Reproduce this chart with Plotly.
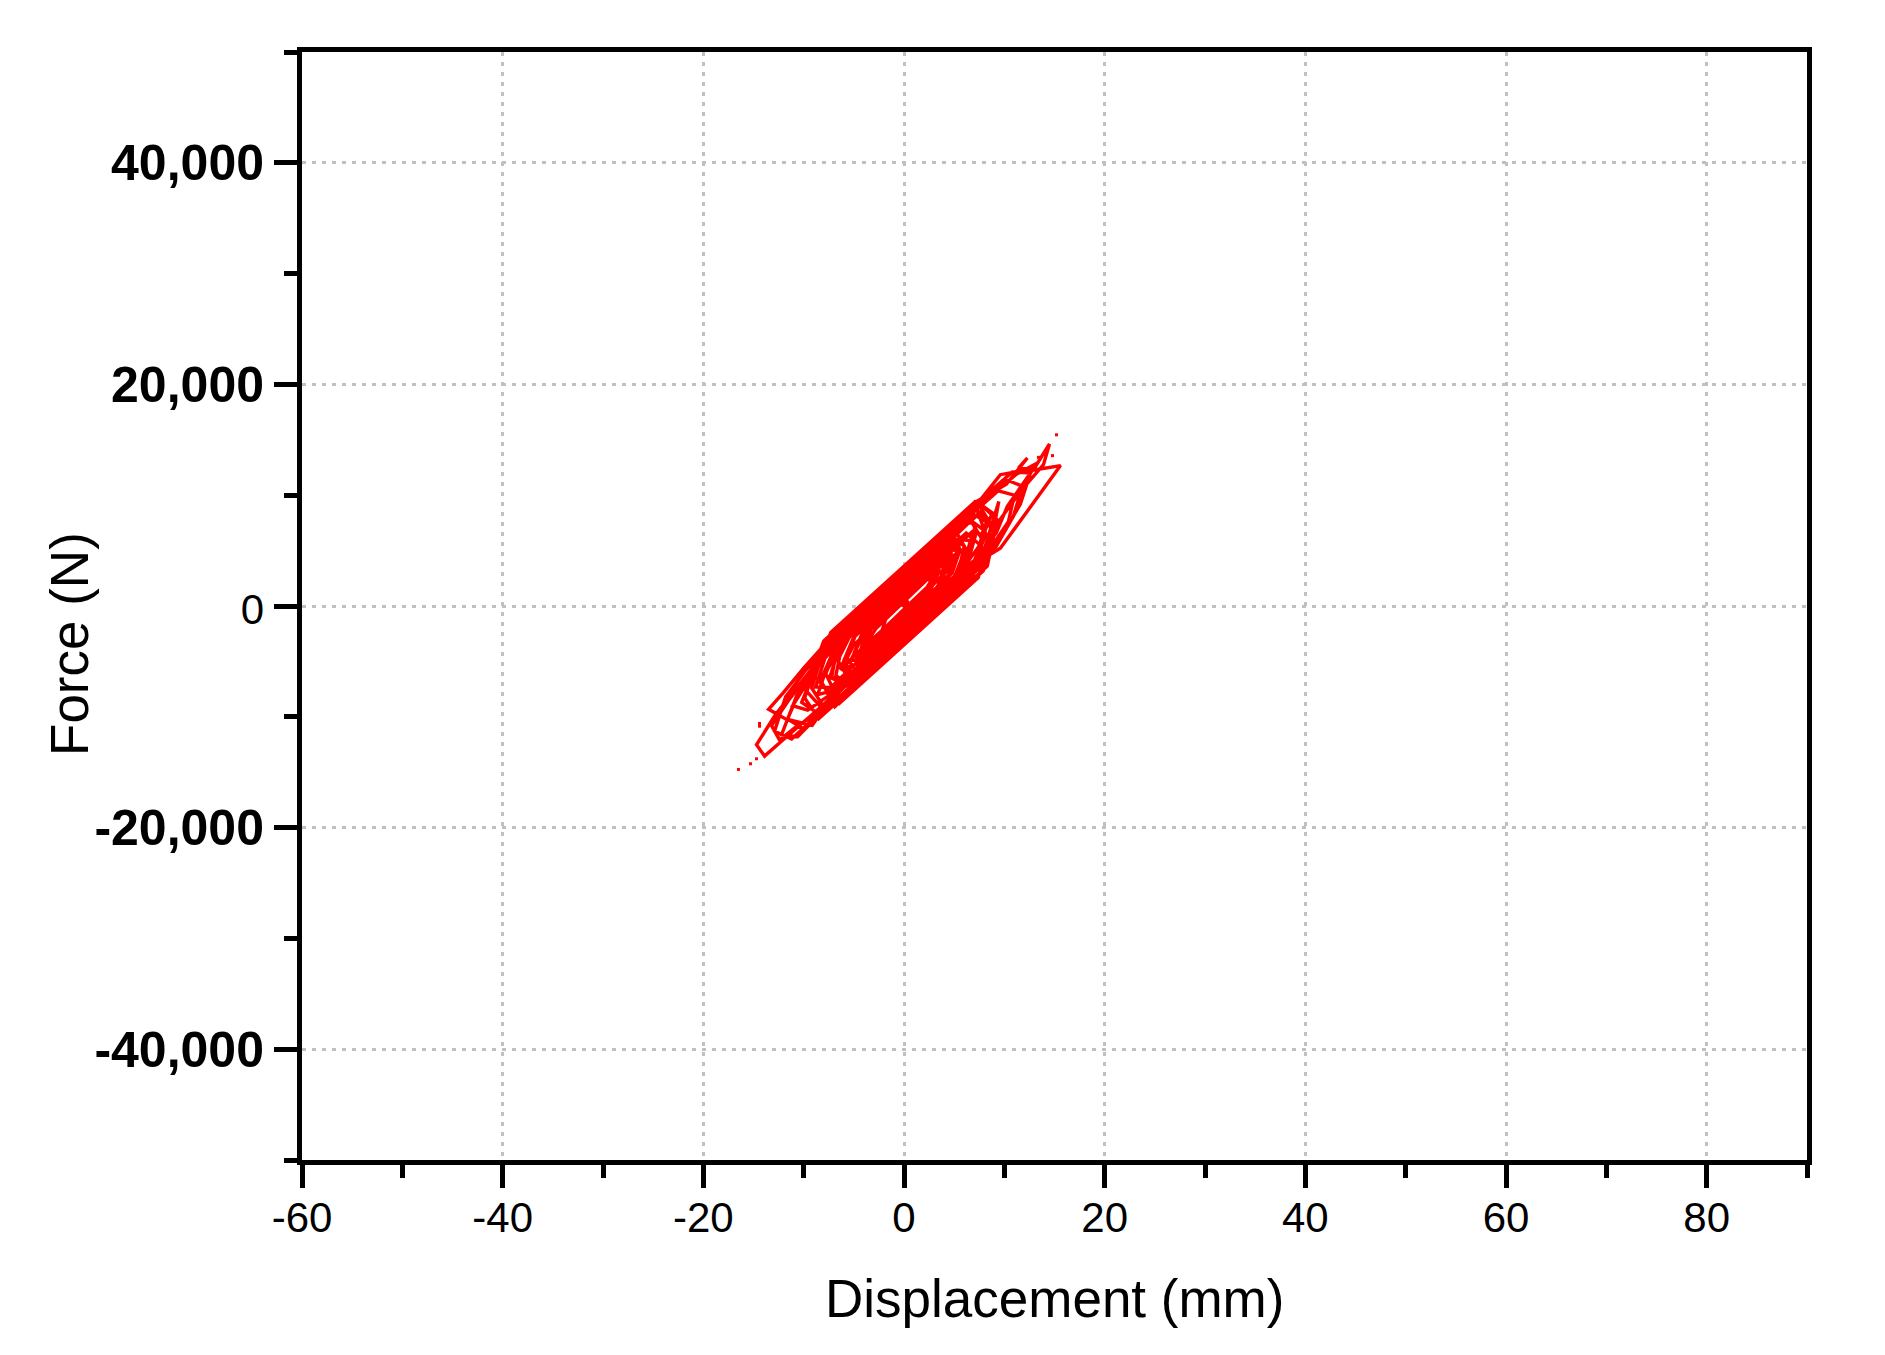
import plotly.graph_objects as go

# Hysteresis path (displacement mm, force N)
disp = [
    0.0, 1.2, 2.9, 4.1, 3.0, 1.1, -1.2, -3.0, -4.2, -3.1, -1.0, 1.3, 3.4, 5.2, 6.0, 4.7, 2.4, 0.3,
    -2.1, -4.4, -6.1, -6.8, -5.3, -3.2, -0.9, 1.6, 3.9, 6.2, 7.6, 8.2, 6.9, 4.8, 2.6, 0.1, -2.7,
    -5.0, -7.6, -9.0, -10.2, -8.4, -6.3, -4.1, -1.8, 0.7, 3.1, 5.5, 7.8, 9.45, 8.95, 11.6, 13.9,
    14.5, 12.9, 11.4, 12.3, 10.2, 7.0, 4.6, 2.0, -0.35, -3.0, -5.5, -7.65, -10.0, -12.0, -13.5,
    -11.8, -9.15, -7.0, -4.6, -2.2, 0.4, 2.9, 5.3, 6.3, 9.6, 15.6, 13.1, 11.4, 9.6, 7.2, 4.9, 2.3,
    -0.2, -2.9, -5.4, -8.0, -10.6, -12.8, -14.7, -13.9, -12.3, -10.2, -8.0, -5.6, -3.0, -0.5, 2.1,
    4.5, 7.1, 9.2, 10.3, 13.3, 11.2, 8.6, 6.0, 3.4, 0.9, -1.8, -4.3, -6.9, -9.4, -11.5, -13.2,
    -12.4, -10.9, -8.6, -6.6, -4.3, -1.9, 0.6, 3.1, 5.4, 7.4, 8.8, 7.6, 5.3, 2.8, 0.4, -2.2, -4.7,
    -7.3, -9.5, -11.1, -9.6, -7.2, -4.9, -2.5, 0.0, 2.5, 4.8, 6.6, 7.1, 5.8, 3.5, 1.2, -1.3, -3.6,
    -5.9, -7.9, -8.6, -6.9, -4.5, -2.1, 0.3, 2.6, 4.9, 5.6, 4.0, 1.7, -0.6, -2.9, -5.1, -6.3, -4.8,
    -2.6, -0.3, 2.0, 3.9, 4.6, 3.1, 0.9, -1.4, -3.5, -4.4, -2.9, -0.8, 1.4, 2.9, 2.0, 0.0, -1.6,
    -2.3, -0.9, 0.6,
]
force = [
    300, -1100, 200, 3800, 4600, 3500, 1300, -400, -3800, -4900, -3300, -1200, 400, 2200, 5400,
    6400, 4800, 2900, 800, -1300, -3200, -6300, -7100, -5300, -3400, -1000, 1000, 3100, 4800, 7600,
    8300, 6700, 4900, 2700, 300, -1700, -3400, -6000, -8700, -9800, -8200, -6300, -4200, -2100, 100,
    2400, 4500, 9440, 7020, 10340, 12760, 14620, 12300, 12450, 13360, 11000, 9300, 7020, 4800, 2200,
    0, -1500, -3230, -5600, -7800, -9320, -10200, -10770, -8000, -6400, -4400, -2200, -200, 1800,
    3400, 5210, 12670, 12300, 12150, 11850, 9100, 7300, 5000, 2600, 200, -1900, -4300, -7300, -9800,
    -12520, -13550, -12280, -10600, -8900, -7000, -4700, -2300, 100, 2300, 4200, 6600, 9000, 12900,
    11900, 9900, 7800, 5600, 3200, 700, -1500, -3700, -6100, -8500, -10800, -12100, -11000, -9700,
    -7900, -5800, -3800, -1700, 500, 2800, 5300, 8400, 9200, 7500, 5300, 3100, 700, -1700, -3900,
    -6700, -9000, -9400, -7900, -6100, -4200, -2100, 0, 2400, 4900, 7400, 7700, 5900, 3600, 1300,
    -800, -3200, -6100, -8000, -7600, -5700, -3700, -1500, 500, 3400, 5800, 5900, 3800, 1700, -500,
    -3000, -5600, -6100, -4300, -2200, 100, 2500, 4700, 4800, 2900, 800, -1500, -4200, -4300, -2400,
    -300, 1900, 3000, 1200, -600, -2500, -1800, 200,
]

# continuation of the record: the dense central cycles
disp_more = [
    2.8, 5.1, 7.0, 7.9, 6.4, 3.9, 1.3, -1.4, -3.8, -6.2, -7.4, -5.9, -3.5, -1.1, 1.4, 3.8, 5.9,
    6.6, 5.2, 2.7, 0.2, -2.4, -4.9, -6.0, -4.6, -2.2, 0.3, 2.7, 4.8, 5.6, 4.3, 1.9, -0.6, -3.1,
    -5.6, -7.9, -9.2, -7.8, -5.4, -2.9, -0.4, 2.2, 4.7, 6.9, 8.1, 6.8, 4.4, 1.9, -0.7, -3.2, -4.8,
    -3.4, -1.0, 1.5, 3.6, 4.9, 3.5, 1.0, -1.6, -4.1, -6.5, -8.3, -6.9, -4.5, -2.0, 0.5, 3.0, 5.4,
    7.6, 9.4, 8.0, 5.6, 3.1, 0.6, -1.9, -4.4, -6.7, -7.2, -5.7, -3.3, -0.8, 1.7, 4.1, 6.1, 7.2,
    6.0, 3.5, 1.0, -1.5, -3.9, -5.3, -3.9, -1.4, 1.1, 3.4, 4.4, 3.0, 0.5, -2.0, -4.5, -5.8, -4.4,
    -1.9, 0.6, 3.0, 5.2, 6.2, 4.9, 2.4, -0.1, -2.6, -5.1, -7.5, -8.8, -7.3, -4.9, -2.4, 0.1, 2.5,
    3.6, 2.2, -0.3, -2.8, -3.9, -2.5, 0.0, 2.3, 3.2, 1.8, 0.0,
]
force_more = [
    -460, 1540, 3300, 6900, 7870, 5690, 3430, 1080, -1010, -3090, -6440, -7030, -4950, -2860, -680,
    1410, 3230, 5900, 6020, 3850, 1670, -590, -2760, -5600, -5200, -3110, -940, 1150, 2980, 5100,
    6940, 4850, 2680, 500, -1670, -3670, -7400, -9390, -7300, -5120, -2950, -690, 1490, 3400, 6400,
    6720, 4630, 2450, 190, -1980, -4800, -3560, -1470, 700, 2530, 4500, 5750, 3570, 1310, -870,
    -2960, -6700, -9100, -7020, -4840, -2670, -490, 1600, 3510, 7700, 8860, 6770, 4600, 2420, 250,
    -1930, -3930, -6400, -7160, -5070, -2900, -720, 1370, 3110, 6600, 6320, 4150, 1970, -200, -2290,
    -4900, -4890, -2720, -540, 1460, 3900, 4610, 2440, 260, -1920, -4600, -6230, -4050, -1880, 210,
    2120, 5100, 7160, 4990, 2810, 640, -1540, -3630, -7300, -7350, -5260, -3090, -910, 1180, 3300,
    2310, 140, -2040, -3600, -2480, -300, 1700, 3000, 2800, 1100,
]

# next part of the record: wider cycles at the edges of the band
disp_last = [
    1.5, 3.8, 6.0, 7.9, 8.7, 7.3, 4.8, 2.2, -0.4, -3.0, -5.6, -8.0, -9.8, -8.3, -5.8, -3.3, -0.7,
    1.8, 4.3, 6.6, 7.8, 6.5, 4.0, 1.5, -1.1, -3.6, -6.0, -7.8, -6.4, -4.0, -1.6, 0.9, 3.4, 5.8,
    7.4, 8.4, 7.0, 4.5, 2.0, -0.5, -3.0, -5.4, -7.3, -8.9, -7.4, -5.0, -2.5, 0.0, 2.5, 4.9, 6.1,
    4.7, 2.2, -0.3, -2.8, -5.0, -6.3, -4.9, -2.4, 0.1, 2.6, 4.5, 5.3, 4.0, 1.5, -1.0, -3.5, -6.0,
    -8.2, -9.9, -8.5, -6.0, -3.5, -1.0, 1.5, 4.0, 6.4, 8.3, 9.0, 7.6, 5.1, 2.6, 0.1, -2.4, -4.9,
    -6.6, -5.2, -2.7, -0.2, 2.3, 4.7, 6.9, 7.6, 6.2, 3.7, 1.2, -1.3, -3.8, -5.0, -3.6, -1.1, 1.4,
    3.4, 4.0, 2.5, 0.5, -0.5,
]
force_last = [
    -2070, -180, 1620, 3180, 7300, 9390, 7340, 5200, 3070, 940, -1190, -3160, -7600, -9110, -7060,
    -5010, -2870, -820, 1230, 3110, 6000, 7930, 5880, 3830, 1700, -350, -2320, -6100, -8750, -6780,
    -4810, -2760, -710, 1260, 2570, 5900, 9340, 7290, 5240, 3190, 1140, -830, -2390, -6400, -7770,
    -5800, -3750, -1700, 350, 2320, 5100, 4450, 2400, 350, -1700, -3500, -5800, -4420, -2370, -320,
    1730, 3300, 4800, 6280, 4230, 2180, 130, -1920, -3720, -8300, -10170, -8120, -6070, -4020, -1970,
    80, 2050, 3610, 6600, 8430, 6380, 4330, 2280, 230, -1820, -4900, -7060, -5010, -2960, -910, 1050,
    2860, 5500, 6580, 4530, 2480, 430, -1620, -4300, -3950, -1900, 150, 1790, 3600, 3300, 1500, 200,
]

# end of the record: large cycles forming the two tails
disp_tail = [
    2.0, 4.6, 7.2, 9.8, 11.6, 12.6, 10.8, 8.4, 5.8, 3.1, 0.5, -2.2, -4.8, -7.4, -9.8, -11.8, -12.9,
    -11.2, -8.8, -6.2, -3.6, -1.0, 1.6, 4.2, 6.8, 9.2, 10.9, 11.8, 10.2, 7.8, 5.2, 2.6, 0.0, -2.6,
    -5.2, -7.8, -10.1, -11.6, -10.0, -7.6, -5.0, -2.4, 0.2, 2.8, 5.4, 8.0, 10.4, 11.0, 9.4, 7.0,
    4.4, 1.8, -0.8, -3.4, -6.0, -8.6, -10.7, -12.2, -10.6, -8.2, -5.6, -3.0, -0.4, 1.0,
]
force_tail = [
    -700, 1500, 3700, 6400, 9200, 12000, 12100, 10200, 8000, 5700, 3400, 1000, -1200, -3500, -5800,
    -8200, -11300, -12000, -10000, -8000, -5800, -3500, -1300, 1000, 3200, 5400, 8100, 10800, 11400,
    9300, 7000, 4800, 2400, 200, -2100, -4600, -7000, -10200, -11100, -9300, -7100, -4900, -2600,
    -400, 2000, 4400, 7600, 10000, 10400, 8500, 6200, 3900, 1600, -600, -2900, -5400, -8100, -11600,
    -11800, -9600, -7600, -5300, -3000, -1500,
]

# isolated sample points
dot_disp = [15.2, 14.8, 13.4, 10.6, -16.5, -15.3, -14.7, -14.4, -14.4]
dot_force = [15450, 13570, 13420, 8990, -14750, -14240, -13790, -10600, -10850]

x_ticks = [-60, -40, -20, 0, 20, 40, 60, 80]
x_labels = ["-60", "-40", "-20", "0", "20", "40", "60", "80"]
y_ticks = [-40000, -20000, 0, 20000, 40000]
y_labels = ["<b>-40,000</b>", "<b>-20,000</b>", "<span style='font-size:42px'>0</span>",
            "<b>20,000</b>", "<b>40,000</b>"]

FONT = "Liberation Sans, Arial, sans-serif"

fig = go.Figure()
fig.add_trace(go.Scatter(x=disp + disp_more + disp_last + disp_tail,
                         y=force + force_more + force_last + force_tail,
                         mode="lines", line=dict(color="#ff0000", width=3.4), showlegend=False))
fig.add_trace(go.Scatter(x=dot_disp, y=dot_force, mode="markers",
                         marker=dict(color="#ff0000", size=3, symbol="square"),
                         showlegend=False))

common = dict(
    showline=True, linewidth=5, linecolor="black", mirror=True,
    ticks="outside", ticklen=23, tickwidth=5, tickcolor="black",
    showgrid=True, gridcolor="#c0c0c0", gridwidth=2.5, griddash="4px,6px",
    zeroline=False,
)

fig.update_xaxes(range=[-60, 90], tickmode="array", tickvals=x_ticks, ticktext=x_labels,
                 tickfont=dict(family=FONT, size=42, color="black"), ticklabelstandoff=-6,
                 minor=dict(tickmode="linear", tick0=-60, dtick=10, ticks="outside",
                            ticklen=13, tickwidth=5, tickcolor="black", showgrid=False),
                 **common)
fig.update_yaxes(range=[-50000, 50000], tickmode="array", tickvals=y_ticks, ticktext=y_labels,
                 tickfont=dict(family=FONT, size=50, color="black"),
                 minor=dict(tickmode="linear", tick0=0, dtick=10000, ticks="outside",
                            ticklen=13, tickwidth=5, tickcolor="black", showgrid=False),
                 **common)

fig.add_annotation(text="Displacement (mm)", xref="paper", yref="paper",
                   x=0.5, y=-0.125, xanchor="center", yanchor="middle", showarrow=False,
                   font=dict(family=FONT, size=53, color="black"))
fig.add_annotation(text="Force (N)", xref="paper", yref="paper", textangle=-90,
                   x=-0.1546, y=0.466, xanchor="center", yanchor="middle", showarrow=False,
                   font=dict(family=FONT, size=53, color="black"))

fig.update_layout(
    width=1877, height=1347,
    margin=dict(l=294, r=78, t=44, b=195),
    plot_bgcolor="white", paper_bgcolor="white",
    font=dict(family=FONT, color="black"),
)

fig.write_html("out.html")
